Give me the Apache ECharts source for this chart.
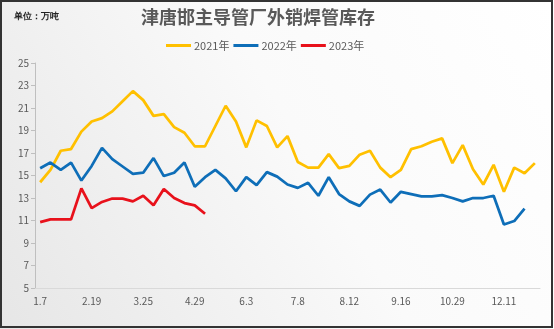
<!DOCTYPE html>
<html>
<head>
<meta charset="utf-8">
<script src="https://cdn.jsdelivr.net/npm/echarts@6/dist/echarts.min.js"></script>
<style>
html,body{margin:0;padding:0;background:#fff;}
#c{width:554px;height:329px;}
</style>
</head>
<body>
<div id="c"></div>
<script>
const categories = ['1.7','1.14','1.21','2.4','2.11','2.19','2.26','3.4','3.11','3.18',
  '3.25','4.1','4.8','4.15','4.22','4.29','5.6','5.13','5.20','5.27',
  '6.3','6.10','6.17','6.24','7.1','7.8','7.15','7.22','7.29','8.5',
  '8.12','8.19','8.26','9.2','9.9','9.16','9.23','9.30','10.14','10.21',
  '10.29','11.5','11.12','11.19','12.3','12.11','12.18','12.25','12.31'];
const s2021 = [14.4,15.5,17.2,17.35,18.9,19.8,20.1,20.7,21.6,22.5,
  21.7,20.3,20.45,19.3,18.8,17.6,17.6,19.4,21.2,19.8,
  17.5,19.9,19.4,17.5,18.5,16.2,15.7,15.7,16.9,15.65,
  15.85,16.85,17.2,15.7,14.85,15.5,17.35,17.6,18.0,18.3,
  16.1,17.7,15.55,14.2,15.95,13.55,15.7,15.2,16.1];
const s2022 = [15.65,16.15,15.5,16.15,14.55,15.85,17.45,16.45,15.8,15.15,
  15.25,16.55,14.95,15.25,16.15,14.0,14.85,15.5,14.75,13.6,
  14.85,14.15,15.3,14.9,14.2,13.9,14.35,13.2,14.85,13.35,
  12.7,12.3,13.3,13.75,12.6,13.55,13.35,13.15,13.15,13.25,
  13.0,12.7,13.0,13.0,13.2,10.65,10.95,12.05];
const s2023 = [10.85,11.1,11.1,11.1,13.85,12.1,12.65,12.95,12.95,12.7,
  13.2,12.35,13.8,13.0,12.55,12.35,11.6];
const yTicks = {min:5, max:25, interval:2};
const titleText = '津唐邯主导管厂外销焊管库存';
const unitText = '单位：万吨';
const seriesNames = ['2021年','2022年','2023年'];

const FONT = "'Noto Sans CJK SC', 'Noto Sans', sans-serif";
const chart = echarts.init(document.getElementById('c'));
chart.setOption({
  animation:false,
  backgroundColor: new echarts.graphic.LinearGradient(0,1,1,0,[
    {offset:0,color:'#e6e6e6'},{offset:0.55,color:'#fafafa'},{offset:1,color:'#ffffff'}]),
  textStyle:{fontFamily:FONT},
  title:{text:titleText,left:136,top:3,
    textStyle:{fontSize:18,fontWeight:'bold',color:'#595959',fontFamily:FONT}},
  graphic:[
    {type:'text',left:14,top:12,style:{text:unitText,fontSize:9,fontWeight:'bold',fill:'#222',font:"bold 9px 'Noto Sans CJK SC'"}},
    {type:'rect',shape:{x:1,y:1,width:551,height:326},style:{fill:null,stroke:'#333',lineWidth:2},silent:true}
  ],
  legend:{data:seriesNames,left:161,top:35,itemWidth:25,itemHeight:3,itemGap:4,icon:'rect',
    textStyle:{fontSize:11,color:'#595959',fontFamily:FONT,padding:[0,0,0,-2]}},
  grid:{left:35,right:14,top:63,bottom:41,containLabel:false},
  xAxis:{type:'category',data:categories,boundaryGap:true,
    axisLine:{lineStyle:{color:'#d9d9d9',width:1}},
    axisTick:{show:false},
    axisLabel:{interval:4,color:'#595959',fontSize:10,margin:8,fontFamily:FONT}},
  yAxis:{type:'value',min:yTicks.min,max:yTicks.max,interval:yTicks.interval,
    axisLine:{show:true,lineStyle:{color:'#bfbfbf'}},
    axisTick:{show:true,length:4,lineStyle:{color:'#bfbfbf'}},
    splitLine:{show:false},
    axisLabel:{color:'#595959',fontSize:10,margin:6,fontFamily:FONT}},
  series:[
    {name:seriesNames[0],type:'line',data:s2021,symbol:'none',color:'#FFC000',lineStyle:{width:2.75,color:'#FFC000'}},
    {name:seriesNames[1],type:'line',data:s2022,symbol:'none',color:'#0E6EB8',lineStyle:{width:2.75,color:'#0E6EB8'}},
    {name:seriesNames[2],type:'line',data:s2023,symbol:'none',color:'#E8111B',lineStyle:{width:2.75,color:'#E8111B'}}
  ]
});
</script>
</body>
</html>
